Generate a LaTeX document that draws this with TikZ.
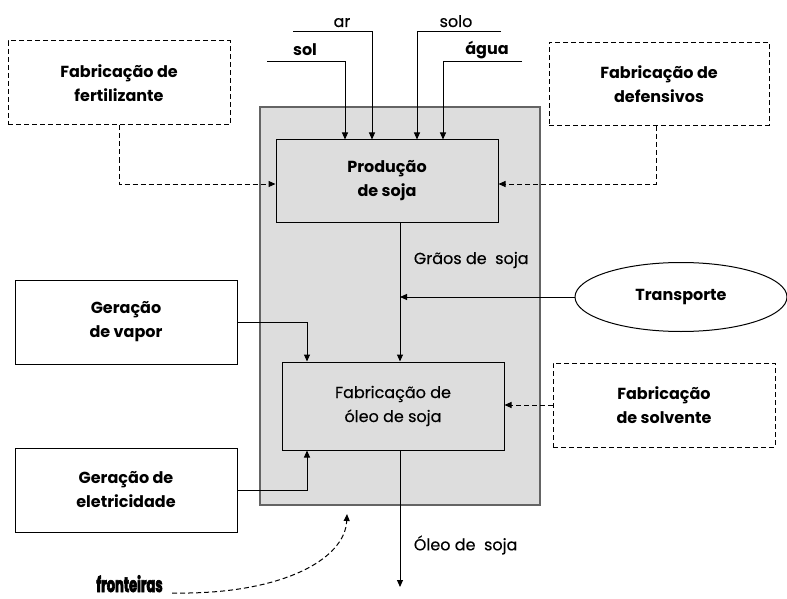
\documentclass[tikz,border=0pt]{standalone}
\usepackage{fontspec}
\setmainfont{Poppins}
\newfontfamily\regfont[FakeBold=0.4]{Poppins}
\newfontfamily\heavyfont[BoldFeatures={FakeBold=3,FakeStretch=0.62}]{Poppins}
\usetikzlibrary{arrows.meta,shapes.geometric}
\definecolor{bgray}{RGB}{221,221,221}
\definecolor{bline}{RGB}{100,100,100}
\begin{document}
\begin{tikzpicture}[x=1pt,y=-1pt,line width=1pt,
  >={Triangle[length=7pt,width=6pt]},
  txt/.style={font=\regfont\fontsize{16}{24}\selectfont,align=center},
  btxt/.style={font=\fontsize{16}{24}\selectfont\bfseries,align=center},
  box/.style={draw,minimum width=222pt,minimum height=84pt,inner sep=0pt},
  dbox/.style={box,dash pattern=on 5pt off 3pt},
  gbox/.style={box,fill=bgray},
  dline/.style={dash pattern=on 5pt off 3pt}]
\useasboundingbox (0,0) rectangle (787,599);
% boundary
\node[draw=bline,line width=2pt,fill=bgray,minimum width=280pt,minimum height=398pt,inner sep=0pt] (bnd) at (400,306) {};
% boxes
\node[gbox,btxt,minimum height=82pt] (prod) at (387,181) {Produção\\de soja};
\node[gbox,txt,minimum height=88pt] (oleo) at (393,406) {Fabricação de\\óleo de soja};
\node[dbox,btxt] (fert) at (119,83) {Fabricação de\\fertilizante};
\node[dbox,btxt,minimum width=220pt,minimum height=83pt] (def) at (659,84) {Fabricação de\\defensivos};
\node[dbox,btxt] (solv) at (664,405) {Fabricação\\de solvente};
\node[box,btxt] (vap) at (126,322) {Geração\\de vapor};
\node[box,btxt] (ele) at (126,490) {Geração de\\eletricidade};
\node[draw,ellipse,btxt,minimum width=212pt,minimum height=69pt,inner sep=0pt] (tr) at (681,297) {Transporte};
% input coordinates
\coordinate (solS) at (267,62);
\coordinate (arS) at (293,32);
\coordinate (soloS) at (501,32);
\coordinate (aguaS) at (522,62);
\node[btxt,anchor=base,inner sep=0pt] (solL) at (305,56) {sol};
\node[txt,anchor=base,inner sep=0pt] (arL) at (342,27) {ar};
\node[txt,anchor=base,inner sep=0pt] (soloL) at (456,27) {solo};
\node[btxt,anchor=base,inner sep=0pt] (aguaL) at (487,55) {água};
\draw[->] (solS) -| ([xshift=-42pt]prod.north);
\draw[->] (arS) -| ([xshift=-15pt]prod.north);
\draw[->] (soloS) -| ([xshift=30pt]prod.north);
\draw[->] (aguaS) -| ([xshift=56pt]prod.north);
% dashed inputs
\draw[dline,->] (fert.south) |- ([yshift=-3pt]prod.west);
\draw[dline,->] ([xshift=-3pt]def.south) |- ([yshift=-3pt]prod.east);
\draw[dline,->] (solv.west) -- (solv.west -| oleo.east);
% grains
\draw[->] ([xshift=13pt]prod.south) -- ([xshift=7pt]oleo.north);
\node[txt,anchor=west] (graos) at (410,260) {Grãos de~~soja};
\coordinate (tj) at (400,297);
\draw[->] (tr.west) -- (tj);
% utilities
\draw[->] (vap.east) -| ([xshift=-86pt]oleo.north);
\draw[->] (ele.east) -| ([xshift=-86pt]oleo.south);
% output
\coordinate (out) at (400,587);
\draw[->] ([xshift=7pt]oleo.south) -- (out);
\node[txt,anchor=west] (oleoL) at (410,545) {Óleo de~~soja};
% fronteiras
\node[font=\heavyfont\fontsize{21}{22}\selectfont\bfseries,anchor=base west,inner sep=0pt] (fr) at (96,592) {fronteiras};
\coordinate (bpt) at (347,514);
\draw[dline,->] ([xshift=9pt,yshift=-1pt]fr.base east) .. controls (280,595) and (345,560) .. (bpt);
\end{tikzpicture}
\end{document}
